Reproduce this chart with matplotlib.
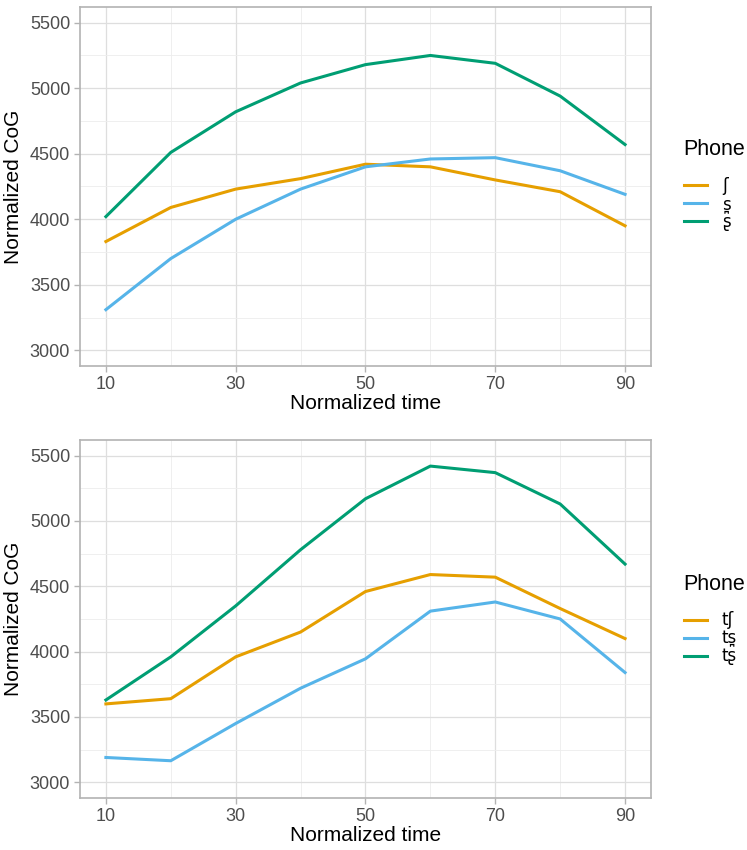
import numpy as np
import matplotlib.pyplot as plt
from matplotlib.ticker import MultipleLocator

plt.rcParams['font.family'] = ['Liberation Sans', 'DejaVu Sans']

time_pts = [10, 20, 30, 40, 50, 60, 70, 80, 90]

# fricatives (top panel)
fric_labels = ['ʃ', 's̪', 'ʂ']
fric_sh = [3830, 4090, 4230, 4310, 4420, 4400, 4300, 4210, 3950]
fric_s = [3310, 3700, 4000, 4230, 4400, 4460, 4470, 4370, 4190]
fric_sr = [4020, 4510, 4820, 5040, 5180, 5250, 5190, 4940, 4570]

# affricates (bottom panel)
affr_labels = ['tʃ', 'ts̪', 'tʂ']
affr_sh = [3600, 3640, 3960, 4150, 4460, 4590, 4570, 4330, 4100]
affr_s = [3190, 3165, 3450, 3720, 3945, 4310, 4380, 4250, 3840]
affr_sr = [3630, 3960, 4350, 4780, 5170, 5420, 5370, 5130, 4670]

COLOURS = ['#E69F00', '#56B4E9', '#009E73']

fig = plt.figure(figsize=(7.47, 8.5), dpi=100)
ax_top = fig.add_axes([0.107, 0.5694, 0.7645, 0.4224])
ax_bot = fig.add_axes([0.107, 0.0612, 0.7645, 0.4212])

panels = [
    (ax_top, fric_labels, [fric_sh, fric_s, fric_sr], 0.782),
    (ax_bot, affr_labels, [affr_sh, affr_s, affr_sr], 0.271),
]

for ax, labels, series, leg_y in panels:
    for lab, vals, col in zip(labels, series, COLOURS):
        ax.plot(time_pts, vals, color=col, lw=2.2, label=lab)
    ax.set_xlim(6, 94)
    ax.set_ylim(2880, 5620)
    ax.set_xticks([10, 30, 50, 70, 90])
    ax.xaxis.set_minor_locator(MultipleLocator(10))
    ax.set_yticks([3000, 3500, 4000, 4500, 5000, 5500])
    ax.yaxis.set_minor_locator(MultipleLocator(250))
    ax.grid(which='major', color='#DEDEDE', lw=0.9)
    ax.grid(which='minor', color='#EDEDED', lw=0.6)
    ax.set_axisbelow(True)
    for sp in ax.spines.values():
        sp.set_color('#B3B3B3')
        sp.set_linewidth(1.2)
    ax.tick_params(which='major', colors='#B3B3B3', labelcolor='#4D4D4D',
                   labelsize=13, length=4, width=1, pad=3)
    ax.tick_params(which='minor', length=0)
    ax.set_xlabel('Normalized time', fontsize=15, labelpad=1)
    ax.set_ylabel('Normalized CoG', fontsize=15, labelpad=5)
    leg = fig.legend(*ax.get_legend_handles_labels(), title='Phone',
                     loc='center left', bbox_to_anchor=(0.915, leg_y),
                     frameon=False, prop={'family': 'DejaVu Sans', 'size': 12},
                     title_fontproperties={'family': 'Liberation Sans', 'size': 15.5},
                     handlelength=1.4, handletextpad=0.9, alignment='left',
                     labelspacing=0.0, borderpad=0, borderaxespad=0)
    leg._legend_box.sep = 12

fig.savefig('out.png', dpi=100)
